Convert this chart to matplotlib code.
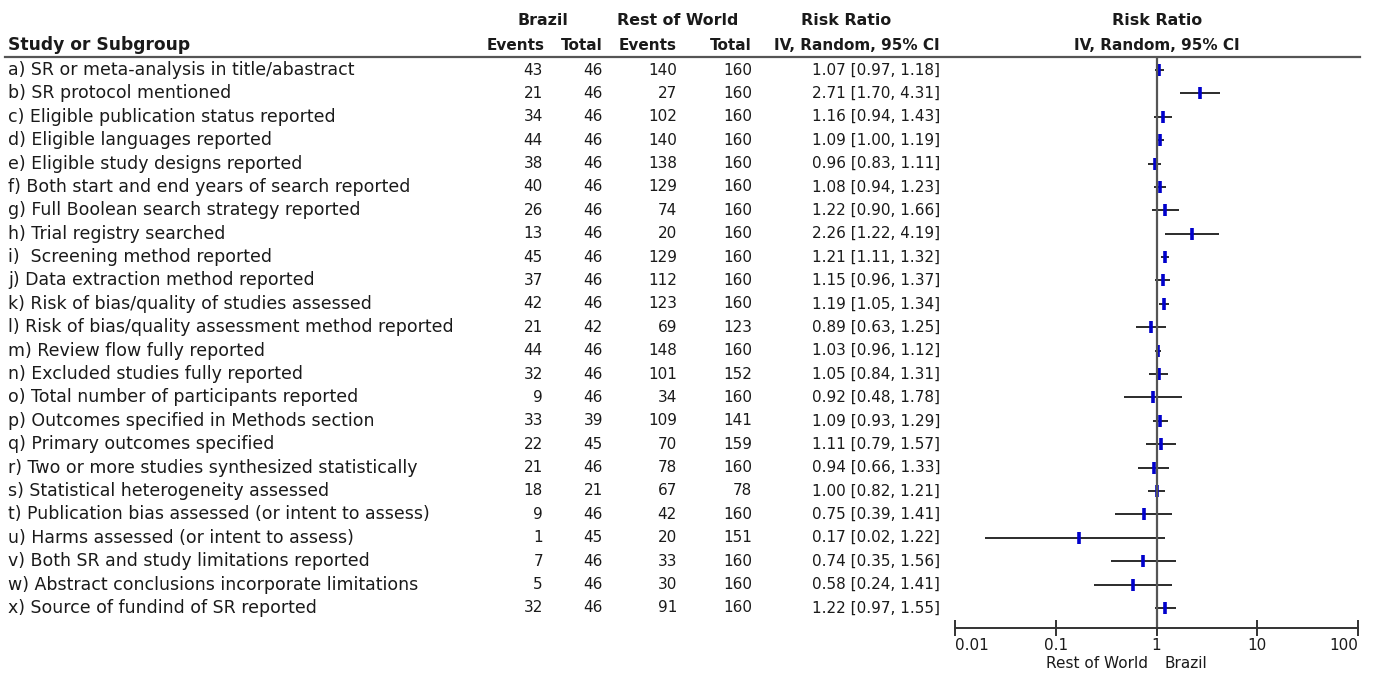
import matplotlib
matplotlib.use("Agg")
import matplotlib.pyplot as plt
import matplotlib.transforms as mtransforms

# Forest plot data: Brazil vs Rest of World
labels = [
    "a) SR or meta-analysis in title/abastract",
    "b) SR protocol mentioned",
    "c) Eligible publication status reported",
    "d) Eligible languages reported",
    "e) Eligible study designs reported",
    "f) Both start and end years of search reported",
    "g) Full Boolean search strategy reported",
    "h) Trial registry searched",
    "i)  Screening method reported",
    "j) Data extraction method reported",
    "k) Risk of bias/quality of studies assessed",
    "l) Risk of bias/quality assessment method reported",
    "m) Review flow fully reported",
    "n) Excluded studies fully reported",
    "o) Total number of participants reported",
    "p) Outcomes specified in Methods section",
    "q) Primary outcomes specified",
    "r) Two or more studies synthesized statistically",
    "s) Statistical heterogeneity assessed",
    "t) Publication bias assessed (or intent to assess)",
    "u) Harms assessed (or intent to assess)",
    "v) Both SR and study limitations reported",
    "w) Abstract conclusions incorporate limitations",
    "x) Source of fundind of SR reported",
]
brazil_events = [43, 21, 34, 44, 38, 40, 26, 13, 45, 37, 42, 21, 44, 32, 9, 33, 22, 21, 18, 9, 1, 7, 5, 32]
brazil_total = [46, 46, 46, 46, 46, 46, 46, 46, 46, 46, 46, 42, 46, 46, 46, 39, 45, 46, 21, 46, 45, 46, 46, 46]
row_events = [140, 27, 102, 140, 138, 129, 74, 20, 129, 112, 123, 69, 148, 101, 34, 109, 70, 78, 67, 42, 20, 33, 30, 91]
row_total = [160, 160, 160, 160, 160, 160, 160, 160, 160, 160, 160, 123, 160, 152, 160, 141, 159, 160, 78, 160, 151, 160, 160, 160]
rr = [1.07, 2.71, 1.16, 1.09, 0.96, 1.08, 1.22, 2.26, 1.21, 1.15, 1.19, 0.89, 1.03, 1.05, 0.92, 1.09, 1.11, 0.94, 1.00, 0.75, 0.17, 0.74, 0.58, 1.22]
ci_lo = [0.97, 1.70, 0.94, 1.00, 0.83, 0.94, 0.90, 1.22, 1.11, 0.96, 1.05, 0.63, 0.96, 0.84, 0.48, 0.93, 0.79, 0.66, 0.82, 0.39, 0.02, 0.35, 0.24, 0.97]
ci_hi = [1.18, 4.31, 1.43, 1.19, 1.11, 1.23, 1.66, 4.19, 1.32, 1.37, 1.34, 1.25, 1.12, 1.31, 1.78, 1.29, 1.57, 1.33, 1.21, 1.41, 1.22, 1.56, 1.41, 1.55]
tick_vals = [0.01, 0.1, 1, 10, 100]
tick_labels = ["0.01", "0.1", "1", "10", "100"]

W, H = 1374, 673
fig = plt.figure(figsize=(W / 100, H / 100), dpi=100)
plt.rcParams['font.family'] = ['DejaVu Sans']
ink = "#1a1a1a"

# forest axes: x from 0.01 (px 955) to 100 (px 1358), y from header line (57) to axis (628)
ax = fig.add_axes([955 / W, 1 - 628 / H, (1358 - 955) / W, (628 - 57) / H])
n = len(labels)
rows = list(range(n))
ax.set_xscale("log")
ax.set_xlim(0.01, 100)
ax.set_ylim(23.86, -0.556)

ax.hlines(rows, ci_lo, ci_hi, color="#1a1a1a", lw=1.3)
ax.plot(rr, rows, "|", color="#0000cc", ms=9, mew=2.6, ls="none")
ax.axvline(1, color="#555555", lw=1.6)

for s in ["top", "left", "right"]:
    ax.spines[s].set_visible(False)
ax.spines["bottom"].set_color("#333333")
ax.spines["bottom"].set_linewidth(1.4)
ax.set_yticks([])
ax.set_xticks(tick_vals, tick_labels)
ax.minorticks_off()
ax.tick_params(axis="x", direction="inout", length=12, width=1.4, color="#333333",
               labelsize=11, labelcolor=ink, pad=1)
xt = ax.get_xticklabels()
xt[0].set_ha("left")
xt[-1].set_ha("right")

fs = 11
fs_lab = 12.5
tr = mtransforms.blended_transform_factory(fig.transFigure, ax.transData)

def fx(px):
    return px / W

# header
hy1, hy2 = -2.1, -1.05
for txt, x in [("Brazil", 543), ("Rest of World", 678), ("Risk Ratio", 846), ("Risk Ratio", 1157)]:
    fig.text(fx(x), hy1, txt, transform=tr, ha="center", va="center", fontsize=11.4,
             fontweight="bold", color=ink)
fig.text(fx(8), hy2, "Study or Subgroup", transform=tr, ha="left", va="center", fontsize=12.3,
         fontweight="bold", color=ink)
for txt, x in [("Events", 545), ("Total", 603), ("Events", 677), ("Total", 752), ("IV, Random, 95% CI", 940)]:
    fig.text(fx(x), hy2, txt, transform=tr, ha="right", va="center", fontsize=fs,
             fontweight="bold", color=ink)
fig.text(fx(1157), hy2, "IV, Random, 95% CI", transform=tr, ha="center", va="center", fontsize=fs,
         fontweight="bold", color=ink)

# header rule
ax.plot([fx(5), fx(1360)], [-0.556, -0.556], transform=tr, color="#555555", lw=1.6, clip_on=False)

# table body
for i in rows:
    fig.text(fx(8), i, labels[i], transform=tr, ha="left", va="center", fontsize=fs_lab, color=ink)
    fig.text(fx(543), i, str(brazil_events[i]), transform=tr, ha="right", va="center", fontsize=fs, color=ink)
    fig.text(fx(603), i, str(brazil_total[i]), transform=tr, ha="right", va="center", fontsize=fs, color=ink)
    fig.text(fx(677), i, str(row_events[i]), transform=tr, ha="right", va="center", fontsize=fs, color=ink)
    fig.text(fx(752), i, str(row_total[i]), transform=tr, ha="right", va="center", fontsize=fs, color=ink)
    fig.text(fx(940), i, f"{rr[i]:.2f} [{ci_lo[i]:.2f}, {ci_hi[i]:.2f}]", transform=tr,
             ha="right", va="center", fontsize=fs, color=ink)

fig.text(fx(1148), 1 - 663 / H, "Rest of World", ha="right", va="center", fontsize=fs, color=ink)
fig.text(fx(1164), 1 - 663 / H, "Brazil", ha="left", va="center", fontsize=fs, color=ink)

fig.savefig("out.png", dpi=100)
